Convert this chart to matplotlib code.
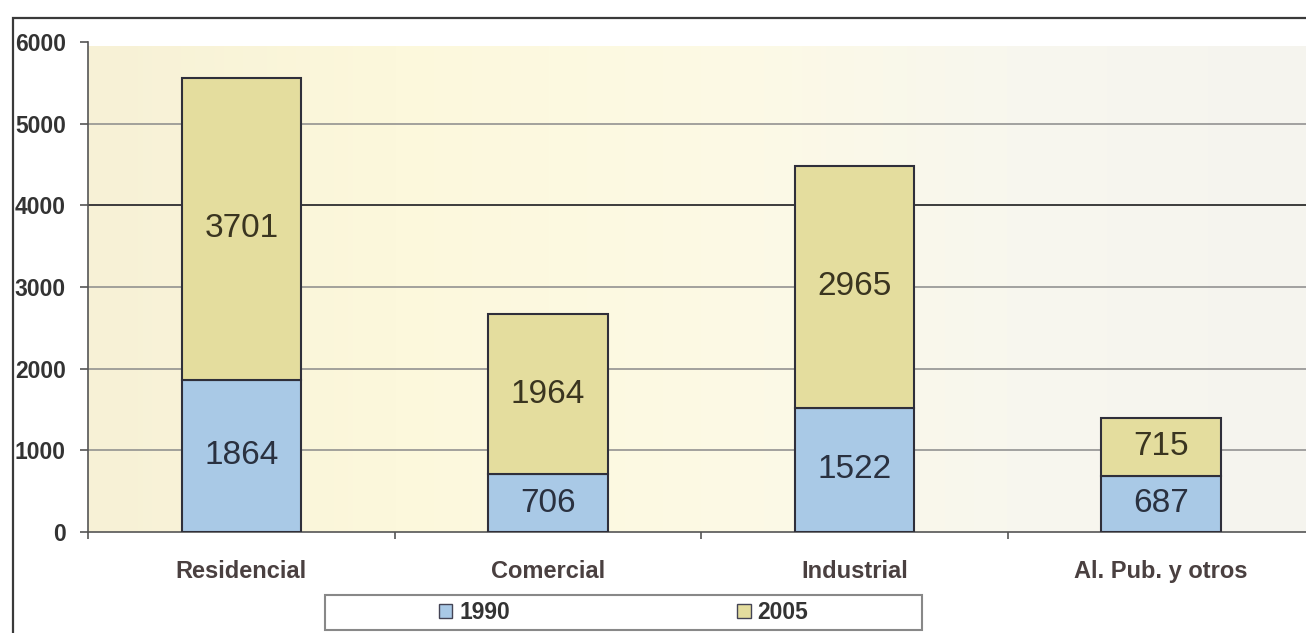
import numpy as np
import matplotlib
matplotlib.use("Agg")
import matplotlib.pyplot as plt
from matplotlib.patches import Rectangle
from matplotlib.colors import LinearSegmentedColormap

categories = ["Residencial", "Comercial", "Industrial", "Al. Pub. y otros"]
series_names = ["1990", "2005"]
values_1990 = [1864, 706, 1522, 687]
values_2005 = [3701, 1964, 2965, 715]
yticks = [0, 1000, 2000, 3000, 4000, 5000, 6000]

plt.rcParams['font.family'] = ['Liberation Sans', 'DejaVu Sans']

W, H = 1306, 633
fig = plt.figure(figsize=(W / 100, H / 100), dpi=100)
fig.patch.set_facecolor('white')

# outer chart border
fig.patches.append(Rectangle((13 / W, -0.05), 1.1, 1 - 18 / H + 0.05,
                             transform=fig.transFigure, fill=False,
                             edgecolor='#3a3a3a', linewidth=1.6, zorder=0))

left = 88 / W
right = 1314.5 / W
bottom = 1 - 532 / H
top = 1 - 42 / H
ax = fig.add_axes([left, bottom, right - left, top - bottom])
ax.set_xlim(-0.5, 3.5)
ax.set_ylim(0, 6000)

# background gradient of the plot area
cmap = LinearSegmentedColormap.from_list(
    'bg', ['#f7f1d6', '#fcf8dc', '#fdfae4', '#f8f7ee', '#f5f4ef'])
grad = np.linspace(0, 1, 256).reshape(1, -1)
ax.imshow(grad, extent=[-0.5, 3.5, 0, 5950], aspect='auto', cmap=cmap,
          zorder=0, interpolation='bicubic')
ax.set_facecolor('white')

x = np.arange(len(categories))
bw = 0.39
c1990 = '#a9c9e6'
c2005 = '#e4dd9e'
b1 = ax.bar(x, values_1990, bw, color=c1990, edgecolor='#2f2f3a',
            linewidth=1.5, zorder=3, label=series_names[0])
b2 = ax.bar(x, values_2005, bw, bottom=values_1990, color=c2005,
            edgecolor='#2f2f3a', linewidth=1.5, zorder=3, label=series_names[1])

for i in range(len(categories)):
    ax.text(x[i], values_1990[i] / 2, str(values_1990[i]), ha='center',
            va='center', fontsize=24, color='#2a3140', zorder=4)
    ax.text(x[i], values_1990[i] + values_2005[i] / 2, str(values_2005[i]),
            ha='center', va='center', fontsize=24, color='#3a3520', zorder=4)

# grid lines
ax.set_yticks(yticks)
ax.set_yticklabels([str(v) for v in yticks], fontsize=16.5,
                   fontweight='bold', color='#333333')
for v in yticks[1:-1]:
    ax.axhline(v, color='#3c3c3c' if v == 4000 else '#8a8a8a',
               linewidth=1.4 if v == 4000 else 1.1, zorder=1)

ax.set_xticks(x)
ax.set_xticklabels(categories, fontsize=17, fontweight='bold',
                   color='#4a4040')
ax.set_xticks(np.arange(-0.5, 3.6, 1), minor=True)
ax.tick_params(axis='x', which='major', length=0, pad=20)
ax.tick_params(axis='x', which='minor', length=5, width=1.2, color='#555555',
               direction='out')
ax.tick_params(axis='y', length=6, width=1.2, color='#555555', pad=10)

for s in ['top', 'right']:
    ax.spines[s].set_visible(False)
ax.spines['left'].set_color('#555555')
ax.spines['left'].set_linewidth(1.2)
ax.spines['bottom'].set_color('#555555')
ax.spines['bottom'].set_linewidth(1.2)

# legend box
lx0, lx1, ly0, ly1 = 325, 922, 595, 630
fig.patches.append(Rectangle((lx0 / W, 1 - ly1 / H), (lx1 - lx0) / W,
                             (ly1 - ly0) / H, transform=fig.transFigure,
                             facecolor='white', edgecolor='#888888',
                             linewidth=1.5, zorder=1))
half = (lx1 - lx0) / 2
for k, h in enumerate([b1, b2]):
    cx = lx0 + half * (k + 0.5)
    leg = fig.legend(handles=[h], labels=[series_names[k]], loc='center',
                     bbox_to_anchor=(cx / W, 1 - (ly0 + ly1) / 2 / H),
                     frameon=False, prop={'size': 16.5, 'weight': 'bold'},
                     handlelength=0.6, handleheight=0.6, handletextpad=0.3,
                     borderaxespad=0, borderpad=0)
    for t in leg.get_texts():
        t.set_color('#333333')
    for lh in leg.legend_handles:
        lh.set_linewidth(1.0)
        lh.set_edgecolor('#444455')

fig.savefig('out.png', dpi=100, facecolor='white')
